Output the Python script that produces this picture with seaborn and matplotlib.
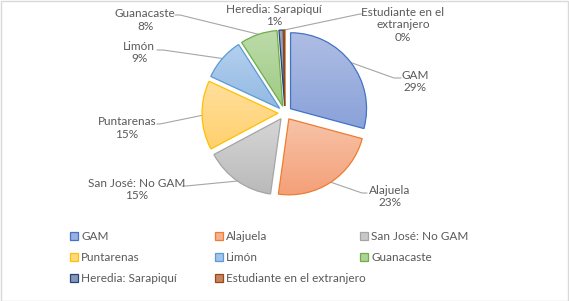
import numpy as np
import matplotlib
matplotlib.use('Agg')
import matplotlib.pyplot as plt
import seaborn as sns
from matplotlib.patches import Patch, Rectangle
from matplotlib.colors import LinearSegmentedColormap, to_rgb

# ---- data ----
categories = ["GAM", "Alajuela", "San José: No GAM", "Puntarenas", "Limón",
              "Guanacaste", "Heredia: Sarapiquí", "Estudiante en el extranjero"]
values = [29.2, 23.0, 15.0, 14.7, 9.0, 7.9, 0.9, 0.3]
label_texts = ["GAM", "Alajuela", "San José: No GAM", "Puntarenas", "Limón",
               "Guanacaste", "Heredia: Sarapiquí", "Estudiante en el\nextranjero"]

# ---- style ----
sns.set_theme(style="white")
plt.rcParams['font.family'] = ['Lato', 'DejaVu Sans']

fills = [('#AEBDE3', '#8AA2DA'), ('#F7C3A8', '#F4A078'), ('#D6D6D6', '#BABABA'),
         ('#FFDF9C', '#FFD06E'), ('#B4D0EE', '#93B9E3'), ('#BCDBA9', '#A0CB86'),
         ('#9AA8C4', '#7386AB'), ('#CD9A7C', '#B9714A')]
edges = sns.color_palette(['#4472C4', '#ED7D31', '#A5A5A5', '#FFC000',
                           '#5B9BD5', '#70AD47', '#264478', '#9E480E'])
TXT = '#595959'
LINE = '#A6A6A6'

W, H = 569, 301
fig = plt.figure(figsize=(W / 100, H / 100), dpi=100)
ax = fig.add_axes([0, 0, 1, 1])
CX, CY, S = 285, 113, 76  # pie centre (px) and px per data unit


def px(x, y):
    return ((x - CX) / S, (CY - y) / S)


wedges, _ = ax.pie(values, startangle=90, counterclock=False,
                   explode=[0.092] * len(values), radius=1,
                   wedgeprops=dict(linewidth=0.9))

grad = np.linspace(0, 1, 128).reshape(-1, 1)
for w, (c1, c2), ec in zip(wedges, fills, edges):
    w.set_facecolor('none')
    w.set_edgecolor(ec)
    w.set_zorder(3)
    bb = w.get_path().get_extents()
    cmap = LinearSegmentedColormap.from_list('g', [c1, c2])
    im = ax.imshow(grad, cmap=cmap, extent=[bb.x0, bb.x1, bb.y0, bb.y1],
                   origin='upper', aspect='auto', zorder=2, interpolation='bilinear')
    im.set_clip_path(w)

# ---- data labels with leader lines ----
text_pos = [(415, 81.5), (390, 196.5), (137, 189.5), (127, 128), (139, 52.5),
            (145, 20), (274, 15.5), (403, 25)]
elbows = [(394, 78), (362, 193), (186, 186), (160, 124), (163, 50), (180, 15),
          None, (360, 14)]
stubs = [(401, 78), (367, 193), (182, 186), (157, 124), (157, 50), (175, 15),
         None, (362, 14)]

for i, w in enumerate(wedges):
    pct = f"{round(values[i] / sum(values) * 100)}%"
    tx, ty = px(*text_pos[i])
    ax.text(tx, ty, f"{label_texts[i]}\n{pct}", ha='center', va='center',
            color=TXT, fontsize=8.5, linespacing=1.15, zorder=5)
    if elbows[i] is not None:
        ang = np.deg2rad((w.theta1 + w.theta2) / 2)
        sx = w.center[0] + w.r * np.cos(ang)
        sy = w.center[1] + w.r * np.sin(ang)
        ex, ey = px(*elbows[i])
        qx, qy = px(*stubs[i])
        ax.plot([sx, ex, qx], [sy, ey, qy], color=LINE, lw=0.8, zorder=1)

ax.set_xlim(-CX / S, (W - CX) / S)
ax.set_ylim(-(H - CY) / S, CY / S)
ax.set_aspect('auto')
ax.axis('off')

# ---- legend (3 columns, row-major order) ----
handles = []
for (c1, c2), ec in zip(fills, edges):
    mid = tuple((np.array(to_rgb(c1)) + np.array(to_rgb(c2))) / 2)
    handles.append(Patch(facecolor=mid, edgecolor=ec, linewidth=0.9))

cols = [[0, 3, 6], [1, 4, 7], [2, 5]]
col_x = [70, 215, 360]
for cx, idx in zip(col_x, cols):
    fig.legend([handles[i] for i in idx], [categories[i] for i in idx],
               loc='upper left', bbox_to_anchor=(cx / W, 1 - 231 / H),
               frameon=False, handlelength=0.65, handleheight=0.65,
               handletextpad=0.3, labelspacing=0.85, borderpad=0,
               borderaxespad=0, fontsize=8.5, labelcolor=TXT)

fig.add_artist(Rectangle((0.5 / W, 0.5 / H), (W - 1.5) / W, (H - 1.5) / H,
                         transform=fig.transFigure, fill=False,
                         edgecolor='#D9D9D9', lw=1.0))

fig.savefig('out.png', dpi=100)
